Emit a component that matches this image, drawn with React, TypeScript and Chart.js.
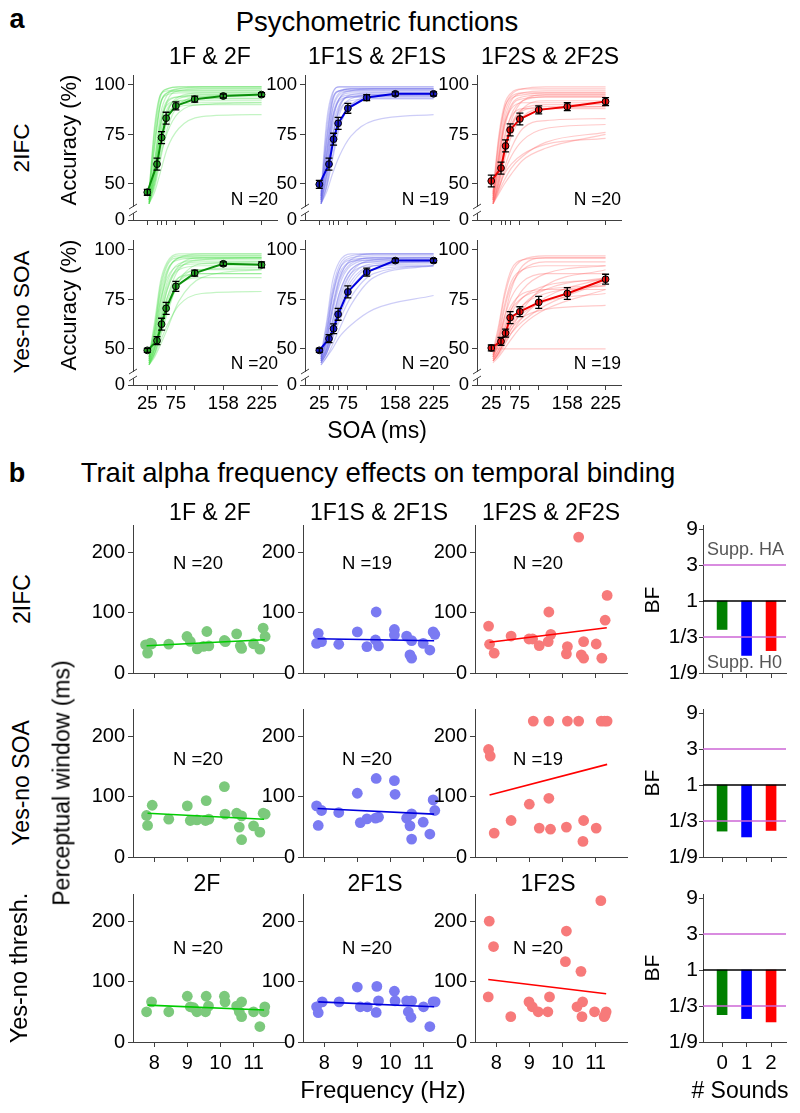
import React, { useEffect, useRef } from 'react';
import { Chart, registerables } from 'chart.js';

// ---------------- DATA: panel a (psychometric functions) ----------------
const SOA = [25, 42, 50, 58, 75, 108, 158, 225];
const SOA_LABELED = [25, 75, 158, 225];
const CURVE_SOA = [28, 38, 48, 60, 80, 120, 225];
const ACC_TICKS = [31.8, 50, 75, 100];
const ACC_TICK_LABELS = ['0', '50', '75', '100'];

const ACC_2IFC_F = [45.8, 60, 73.4, 83.2, 89.4, 92.8, 94.4, 95.1];
const ERR_2IFC_F = [1.5, 3, 3, 3, 2, 1.5, 1, 1];
const ACC_2IFC_F1S = [49.8, 60, 72.6, 80.6, 88.2, 93.6, 95.5, 95.5];
const ERR_2IFC_F1S = [2, 3, 3, 3, 2.5, 1.5, 1, 1];
const ACC_2IFC_F2S = [51.5, 58, 69.2, 77.3, 82.8, 87.4, 89, 91.6];
const ERR_2IFC_F2S = [3, 3, 3, 3, 3, 2, 2, 2];
const ACC_YN_F = [49.3, 54.2, 62.5, 70.5, 81.6, 88.3, 93, 92.5];
const ERR_YN_F = [1, 2, 3, 3, 2.5, 1.5, 1, 1.5];
const ACC_YN_F1S = [49.3, 55.2, 60.2, 67.5, 78.8, 88.8, 94.6, 94.6];
const ERR_YN_F1S = [1, 2, 2.5, 3, 3, 2, 1, 1];
const ACC_YN_F2S = [50.5, 53.8, 58, 65.8, 68.8, 73.5, 78, 85.2];
const ERR_YN_F2S = [1.5, 2, 2, 3, 2.5, 3, 3, 2.5];

// individual participants' fitted curves, sampled at CURVE_SOA
const CURVES_2IFC_F = [
  [42, 62, 85, 95, 98, 99, 99], [40, 55, 78, 92, 97, 98, 98], [44, 68, 90, 96, 97, 97, 97],
  [41, 52, 70, 86, 94, 96, 96], [40, 48, 62, 78, 90, 94, 95], [45, 75, 94, 98, 99, 99, 99],
  [42, 58, 80, 91, 94, 95, 95], [40, 50, 64, 76, 86, 90, 91], [40, 46, 56, 68, 78, 84, 85],
  [46, 80, 95, 97, 97, 97, 97], [43, 62, 82, 92, 94, 94, 94], [40, 50, 66, 82, 91, 93, 93],
  [44, 70, 90, 96, 98, 98, 98], [41, 56, 76, 88, 92, 93, 93], [45, 72, 91, 95, 96, 96, 96],
  [42, 54, 72, 85, 90, 91, 91], [40, 52, 70, 86, 93, 95, 95], [46, 78, 95, 98, 99, 99, 99],
  [42, 60, 80, 90, 92, 92, 92], [41, 57, 75, 85, 89, 90, 90],
];
const CURVES_2IFC_F1S = [
  [42, 66, 88, 96, 98, 98, 98], [40, 56, 80, 93, 97, 98, 98], [44, 70, 91, 97, 98, 98, 98],
  [41, 52, 72, 88, 95, 96, 96], [40, 48, 62, 78, 90, 94, 95], [45, 78, 95, 99, 99, 99, 99],
  [42, 60, 82, 93, 96, 96, 96], [40, 46, 55, 64, 74, 82, 85], [43, 64, 84, 93, 95, 95, 95],
  [41, 54, 74, 89, 94, 95, 95], [44, 72, 92, 97, 97, 97, 97], [42, 58, 78, 90, 94, 94, 94],
  [40, 50, 68, 85, 93, 95, 95], [46, 82, 96, 99, 99, 99, 99], [42, 62, 83, 92, 94, 94, 94],
  [41, 55, 74, 87, 92, 93, 93], [43, 66, 87, 95, 97, 97, 97], [40, 49, 64, 80, 90, 93, 93],
  [44, 74, 93, 97, 98, 98, 98],
];
const CURVES_2IFC_F2S = [
  [45, 70, 88, 95, 98, 99, 99], [42, 62, 82, 92, 96, 97, 97], [44, 66, 85, 93, 95, 96, 96],
  [40, 52, 68, 82, 92, 95, 95], [40, 48, 58, 68, 78, 82, 83], [42, 56, 72, 85, 92, 94, 94],
  [40, 46, 52, 58, 64, 71, 76], [41, 48, 55, 60, 65, 70, 73], [40, 45, 50, 55, 62, 68, 75],
  [46, 74, 90, 96, 98, 98, 98], [43, 60, 78, 89, 93, 94, 94], [41, 50, 62, 74, 84, 88, 89],
  [44, 64, 80, 88, 91, 91, 91], [42, 54, 68, 80, 88, 90, 90], [40, 50, 64, 78, 88, 92, 92],
  [45, 72, 88, 94, 96, 96, 96], [42, 58, 74, 84, 88, 88, 88], [40, 47, 56, 64, 72, 78, 80],
  [43, 62, 80, 90, 94, 95, 95], [41, 52, 66, 79, 87, 89, 89],
];
const CURVES_YN_F = [
  [44, 55, 72, 88, 96, 98, 98], [42, 50, 62, 76, 90, 95, 96], [46, 60, 78, 90, 95, 96, 96],
  [43, 48, 56, 68, 84, 93, 94], [42, 47, 54, 62, 72, 78, 79], [45, 58, 75, 89, 96, 97, 97],
  [44, 52, 66, 80, 90, 92, 92], [42, 48, 58, 70, 84, 90, 90], [47, 62, 82, 93, 97, 97, 97],
  [43, 50, 60, 72, 84, 88, 88], [45, 56, 70, 84, 93, 95, 95], [42, 46, 52, 60, 74, 86, 90],
  [46, 58, 74, 86, 92, 93, 93], [44, 54, 68, 82, 91, 94, 94], [43, 50, 64, 80, 92, 96, 96],
  [45, 60, 80, 92, 96, 96, 96], [42, 48, 58, 70, 82, 86, 86], [44, 52, 64, 76, 86, 88, 88],
  [46, 64, 84, 94, 98, 98, 98], [43, 51, 62, 74, 86, 90, 91],
];
const CURVES_YN_F1S = [
  [45, 55, 70, 85, 95, 98, 98], [44, 50, 60, 74, 88, 95, 96], [46, 58, 76, 90, 96, 97, 97],
  [43, 48, 55, 64, 76, 88, 92], [42, 46, 50, 56, 62, 70, 77], [45, 56, 72, 86, 94, 96, 96],
  [44, 52, 64, 78, 90, 94, 94], [43, 48, 57, 68, 82, 92, 94], [47, 62, 80, 92, 97, 98, 98],
  [44, 50, 60, 72, 86, 93, 94], [45, 54, 68, 82, 92, 95, 95], [42, 46, 52, 60, 72, 86, 92],
  [46, 60, 78, 90, 95, 96, 96], [44, 52, 64, 78, 90, 94, 95], [43, 49, 58, 70, 84, 92, 93],
  [46, 58, 76, 88, 94, 95, 95], [44, 50, 62, 76, 88, 92, 92], [45, 55, 70, 84, 93, 96, 96],
  [47, 64, 84, 94, 98, 98, 98], [43, 48, 56, 66, 80, 90, 92],
];
const CURVES_YN_F2S = [
  [48, 60, 76, 88, 95, 97, 97], [46, 54, 66, 80, 92, 96, 96], [47, 58, 72, 84, 90, 92, 92],
  [44, 48, 54, 60, 70, 82, 90], [50, 50, 50, 50, 50, 50, 50], [45, 50, 56, 62, 68, 74, 78],
  [44, 48, 53, 58, 64, 72, 84], [46, 52, 60, 68, 76, 82, 85], [48, 56, 66, 76, 84, 88, 88],
  [43, 46, 50, 55, 62, 70, 80], [47, 55, 64, 72, 78, 80, 80], [45, 50, 56, 64, 72, 78, 82],
  [46, 56, 70, 82, 90, 94, 94], [44, 47, 52, 58, 66, 76, 86], [49, 62, 78, 90, 95, 96, 96],
  [45, 49, 54, 60, 66, 70, 72], [46, 52, 60, 70, 80, 88, 92], [44, 48, 54, 62, 72, 80, 86],
  [47, 54, 62, 70, 76, 80, 82],
];

// ---------------- DATA: panel b (alpha frequency vs perceptual window) ----------------
const FREQ_TICKS = [8, 9, 10, 11];
const PW_TICKS = [0, 100, 200];

const FREQ_2IFC_F = [7.74, 7.89, 7.8, 7.92, 8.44, 8.99, 9.09, 9.3, 9.49, 9.59, 9.65, 10.12, 10.15, 10.49, 10.6, 10.64, 11.0, 11.19, 11.29, 11.35];
const PW_2IFC_F = [46.7, 49.5, 33, 48, 47.8, 60.4, 52.2, 40, 44, 68.7, 45, 53.8, 52, 64.8, 45, 40.7, 48.4, 39.6, 74.2, 60.4];
const FIT_X_2IFC_F = [7.77, 11.34];
const FIT_Y_2IFC_F = [45, 55];

const FREQ_2IFC_F1S = [7.82, 7.77, 7.92, 8.44, 9.0, 9.29, 9.57, 9.55, 9.64, 10.12, 10.12, 10.49, 10.64, 10.59, 10.64, 10.99, 11.19, 11.29, 11.34];
const PW_2IFC_F1S = [65.6, 49, 52, 47.5, 68, 43.7, 101, 54.6, 44.8, 72, 62.8, 61, 53.5, 30, 24.6, 49, 38, 68, 64];
const FIT_X_2IFC_F1S = [7.8, 11.32];
const FIT_Y_2IFC_F1S = [56.8, 53.5];

const FREQ_2IFC_F2S = [7.77, 7.8, 7.94, 8.45, 8.99, 9.1, 9.3, 9.59, 9.65, 9.57, 10.15, 10.12, 10.49, 10.64, 10.57, 10.64, 11.02, 11.19, 11.29, 11.35];
const PW_2IFC_F2S = [77.6, 47.5, 32.8, 61.2, 56.3, 56.3, 45.4, 101, 64, 52, 43.7, 31.7, 225, 52, 30, 24.6, 48, 24.6, 87.4, 128.4];
const FIT_X_2IFC_F2S = [7.8, 11.34];
const FIT_Y_2IFC_F2S = [50.8, 74.9];

const FREQ_YNSOA_F = [7.77, 7.94, 7.8, 8.44, 9.0, 9.09, 9.29, 9.57, 9.55, 9.65, 10.12, 10.14, 10.49, 10.64, 10.57, 10.64, 11.0, 11.19, 11.29, 11.35];
const PW_YNSOA_F = [68.7, 85.7, 52.2, 62.6, 84.6, 60.4, 61.5, 93.4, 60.4, 62.6, 116.5, 70.9, 72.5, 68, 49.5, 28.6, 51.6, 41.2, 72.5, 70.9];
const FIT_X_YNSOA_F = [7.8, 11.32];
const FIT_Y_YNSOA_F = [72.5, 62.6];

const FREQ_YNSOA_F1S = [7.77, 7.92, 7.82, 8.44, 9.0, 9.09, 9.29, 9.55, 9.64, 9.57, 10.12, 10.14, 10.49, 10.64, 10.59, 10.64, 10.99, 11.19, 11.29, 11.34];
const PW_YNSOA_F1S = [84.6, 77, 52.2, 73.6, 105.5, 57, 63, 64.3, 66, 130, 126.4, 103.8, 64.3, 71.4, 51.6, 29.7, 57.7, 38, 94.5, 77];
const FIT_X_YNSOA_F1S = [7.8, 11.32];
const FIT_Y_YNSOA_F1S = [80.2, 70.9];

const FREQ_YNSOA_F2S = [9.12, 9.59, 10.15, 10.49, 11.17, 11.27, 11.35, 7.77, 7.82, 7.94, 8.45, 9.0, 9.3, 9.59, 9.64, 10.12, 10.64, 10.62, 11.02];
const PW_YNSOA_F2S = [225, 225, 225, 225, 225, 225, 225, 178, 167, 39.6, 60.4, 87.4, 47.8, 97.2, 46, 49.5, 60.4, 25.8, 47.8];
const FIT_X_YNSOA_F2S = [7.8, 11.35];
const FIT_Y_YNSOA_F2S = [102.7, 153.3];

const FREQ_YNTH_F = [7.77, 7.92, 8.44, 9.0, 9.09, 9.19, 9.29, 9.57, 9.64, 9.55, 10.12, 10.14, 10.49, 10.64, 10.57, 10.64, 11.0, 11.19, 11.34, 11.32];
const PW_YNTH_F = [50, 66.5, 50, 75.7, 58.3, 56.7, 50, 75.7, 59.4, 50, 75.7, 66.5, 59.4, 66.5, 50, 42, 50, 25.6, 58.3, 50];
const FIT_X_YNTH_F = [7.8, 11.32];
const FIT_Y_YNTH_F = [61, 52.9];

const FREQ_YNTH_F1S = [7.77, 7.94, 7.82, 8.45, 9.0, 9.09, 9.3, 9.59, 9.64, 9.57, 10.12, 10.14, 10.49, 10.64, 10.54, 10.62, 11.0, 11.19, 11.29, 11.35];
const PW_YNTH_F1S = [58.3, 66.5, 48.5, 66.5, 91, 58.3, 58.3, 92, 68, 49, 84, 68, 68, 68, 50, 41, 58.3, 25.6, 66.5, 66.5];
const FIT_X_YNTH_F1S = [7.82, 11.32];
const FIT_Y_YNTH_F1S = [66.5, 58.3];

const FREQ_YNTH_F2S = [7.79, 7.92, 7.76, 8.44, 8.99, 9.09, 9.27, 9.56, 9.61, 10.12, 10.09, 10.56, 10.44, 10.61, 10.59, 10.97, 11.16, 11.32, 11.26, 11.29];
const PW_YNTH_F2S = [200, 158, 74.7, 42, 66.5, 58.3, 50, 50, 74.7, 183.7, 133, 117, 58.3, 66.5, 42, 50, 234, 50, 42, 44.7];
const FIT_X_YNTH_F2S = [7.76, 11.32];
const FIT_Y_YNTH_F2S = [103.5, 80];

// Bayes factors (# sounds = 0, 1, 2)
const SOUNDS = [0, 1, 2];
const BF_2IFC = [0.42, 0.19, 0.22];
const BF_YNSOA = [0.245, 0.205, 0.25];
const BF_YNTH = [0.256, 0.227, 0.205];
const BF_TICKS = [1 / 9, 1 / 3, 1, 3, 9];
const BF_TICK_LABELS = ['1/9', '1/3', '1', '3', '9'];
const BF_SUPPORT = [3, 1 / 3];

// ---------------- styles / layout ----------------
const FONT = 'Arial, "Liberation Sans", sans-serif';
const AXIS_COLOR = '#404040';
const ORCHID = '#cc66d6';
const GREEN = { light: 'rgba(60,220,60,0.3)', line: '#0b900b', marker: '#22a022', pt: '#7cc97c', fit: '#00cc00', bar: '#008000' };
const BLUE = { light: 'rgba(90,90,230,0.3)', line: '#0000e0', marker: '#1a1acc', pt: '#7a7af2', fit: '#0000dd', bar: '#0000ff' };
const RED = { light: 'rgba(255,90,90,0.32)', line: '#ee0000', marker: '#ee1111', pt: '#f77a7a', fit: '#ff0000', bar: '#ff0000' };

const YW = 60, XH = 40, PT = 20, PR = 12;
const A_COLS = [133, 305, 477], A_W = 144, A_ROWS = [75, 240], A_H = 145;
const B_COLS = [133, 303, 475], B_W = 152, B_ROWS = [525, 709, 894], B_H = 148;
const BF_AX = 703, BF_W = 83;
const BF_XMIN = -0.78, BF_XMAX = 2.61, BF_YMIN = 1 / 9, BF_YMAX = 10.2;
const ACC_MIN = 31.8, ACC_MAX = 105;
const PW_MIN = 0, PW_MAX = 245;
const F_MIN = 7.36, F_MAX = 11.95;

const errorBarPlugin = {
  id: 'errorBars',
  afterDatasetsDraw(chart: any) {
    const ctx = chart.ctx;
    const ys = chart.scales.y;
    chart.data.datasets.forEach((d: any, i: number) => {
      if (!d.errors) return;
      const meta = chart.getDatasetMeta(i);
      ctx.save();
      ctx.strokeStyle = '#000';
      ctx.lineWidth = 1.3;
      meta.data.forEach((pt: any, j: number) => {
        const v = d.data[j].y, e = d.errors[j];
        const x = pt.x;
        const y1 = ys.getPixelForValue(v + e), y2 = ys.getPixelForValue(v - e);
        ctx.beginPath();
        ctx.moveTo(x, y1); ctx.lineTo(x, y2);
        ctx.moveTo(x - 3.5, y1); ctx.lineTo(x + 3.5, y1);
        ctx.moveTo(x - 3.5, y2); ctx.lineTo(x + 3.5, y2);
        ctx.stroke();
      });
      ctx.restore();
    });
  },
};

const breakPlugin = {
  id: 'axisBreak',
  afterDraw(chart: any, _a: any, opts: any) {
    if (!opts || !opts.enabled) return;
    const { left, bottom } = chart.chartArea;
    const ctx = chart.ctx;
    const yb = bottom - 10;
    ctx.save();
    ctx.fillStyle = '#fff';
    ctx.fillRect(left - 2, yb - 3, 4, 6);
    ctx.strokeStyle = AXIS_COLOR;
    ctx.lineWidth = 1;
    ctx.beginPath();
    ctx.moveTo(left - 4, yb - 1); ctx.lineTo(left + 4, yb - 6);
    ctx.moveTo(left - 4, yb + 6); ctx.lineTo(left + 4, yb + 1);
    ctx.stroke();
    ctx.restore();
  },
};

Chart.register(...registerables, errorBarPlugin, breakPlugin);

const font = (size: number) => ({ family: FONT, size });
const setTicks = (values: number[]) => (s: any) => { s.ticks = values.map((v) => ({ value: v })); };
const fixW = (s: any) => { s.width = YW; };
const fixH = (s: any) => { s.height = XH; };
const gridOpts = { drawOnChartArea: false, drawTicks: true, tickLength: 5, color: AXIS_COLOR, lineWidth: 1 };
const borderOpts = { color: AXIS_COLOR, width: 1 };

function baseOptions(extraPlugins: any = {}) {
  return {
    animation: false,
    responsive: false,
    maintainAspectRatio: false,
    events: [],
    layout: { padding: { top: PT, right: PR, left: 0, bottom: 0 } },
    plugins: { legend: { display: false }, tooltip: { enabled: false }, ...extraPlugins },
  };
}

function psychConfig(curves: number[][], mean: number[], err: number[], col: any, showLabels: boolean) {
  const datasets: any[] = curves.map((c) => ({
    data: CURVE_SOA.map((x, i) => ({ x, y: c[i] })),
    borderColor: col.light, borderWidth: 1.2, pointRadius: 0, showLine: true,
    cubicInterpolationMode: 'monotone', order: 3,
  }));
  datasets.push({
    data: SOA.map((x, i) => ({ x, y: mean[i] })),
    borderColor: col.line, borderWidth: 2, pointRadius: 3.4,
    pointBackgroundColor: col.marker, pointBorderColor: '#000', pointBorderWidth: 1,
    showLine: true, order: 1, errors: err,
  });
  return {
    type: 'scatter',
    data: { datasets },
    options: {
      ...baseOptions({ axisBreak: { enabled: true } }),
      scales: {
        x: {
          type: 'linear', min: 0, max: 252, afterBuildTicks: setTicks(SOA), afterFit: fixH,
          grid: gridOpts, border: borderOpts,
          ticks: { autoSkip: false, maxRotation: 0, font: font(18.5), color: '#000', padding: 3,
            callback: (v: number) => (showLabels && SOA_LABELED.includes(v) ? String(v) : '') },
        },
        y: {
          type: 'linear', min: ACC_MIN, max: ACC_MAX, afterBuildTicks: setTicks(ACC_TICKS), afterFit: fixW,
          grid: gridOpts, border: borderOpts,
          ticks: { autoSkip: false, font: font(18.5), color: '#000', padding: 3,
            callback: (_v: number, i: number) => ACC_TICK_LABELS[i] },
        },
      },
    },
  };
}

function scatterConfig(freq: number[], pw: number[], fx: number[], fy: number[], col: any, showLabels: boolean) {
  return {
    type: 'scatter',
    data: {
      datasets: [
        { data: fx.map((x, i) => ({ x, y: fy[i] })), showLine: true, borderColor: col.fit, borderWidth: 1.6, pointRadius: 0, order: 0 },
        { data: freq.map((x, i) => ({ x, y: pw[i] })), pointRadius: 5.4, pointBackgroundColor: col.pt, pointBorderWidth: 0, borderWidth: 0, order: 2 },
      ],
    },
    options: {
      ...baseOptions(),
      scales: {
        x: {
          type: 'linear', min: F_MIN, max: F_MAX, afterBuildTicks: setTicks(FREQ_TICKS), afterFit: fixH,
          grid: gridOpts, border: borderOpts,
          ticks: { autoSkip: false, maxRotation: 0, font: font(20), color: '#000', padding: 4,
            callback: (v: number) => (showLabels ? String(v) : '') },
        },
        y: {
          type: 'linear', min: PW_MIN, max: PW_MAX, afterBuildTicks: setTicks(PW_TICKS), afterFit: fixW,
          grid: gridOpts, border: borderOpts,
          ticks: { autoSkip: false, font: font(20), color: '#000', padding: 3, callback: (v: number) => String(v) },
        },
      },
    },
  };
}

function bfConfig(bf: number[], showLabels: boolean) {
  const hline = (y: number, color: string, w: number) => ({
    type: 'line', data: [{ x: BF_XMIN, y }, { x: BF_XMAX, y }], borderColor: color, borderWidth: w, pointRadius: 0, order: 0,
  });
  return {
    type: 'bar',
    data: {
      datasets: [
        hline(1, '#000', 1.5),
        hline(BF_SUPPORT[0], ORCHID, 1.5),
        hline(BF_SUPPORT[1], ORCHID, 1.5),
        {
          type: 'bar',
          data: SOUNDS.map((x, i) => ({ x, y: [bf[i], 1] })),
          backgroundColor: [GREEN.bar, BLUE.bar, RED.bar], borderWidth: 0, barThickness: 10, order: 2,
        },
      ],
    },
    options: {
      ...baseOptions(),
      scales: {
        x: {
          type: 'linear', min: BF_XMIN, max: BF_XMAX, offset: false, afterBuildTicks: setTicks(SOUNDS), afterFit: fixH,
          grid: { ...gridOpts, offset: false }, border: borderOpts,
          ticks: { autoSkip: false, maxRotation: 0, font: font(20.5), color: '#000', padding: 4,
            callback: (v: number) => (showLabels ? String(v) : '') },
        },
        y: {
          type: 'logarithmic', min: BF_YMIN, max: BF_YMAX, afterBuildTicks: setTicks(BF_TICKS), afterFit: fixW,
          grid: { ...gridOpts, tickLength: 4 }, border: borderOpts,
          ticks: { autoSkip: false, font: font(21), color: '#000', padding: 1,
            callback: (_v: number, i: number) => BF_TICK_LABELS[i] },
        },
      },
    },
  };
}

type Spec = { left: number; top: number; w: number; h: number; config: any };
const frame = (axisX: number, plotTop: number, plotW: number, plotH: number) => ({
  left: axisX - YW, top: plotTop - PT, w: YW + plotW + PR, h: PT + plotH + XH,
});

function buildSpecs(): Spec[] {
  const specs: Spec[] = [];
  const psych = [
    [CURVES_2IFC_F, ACC_2IFC_F, ERR_2IFC_F, GREEN], [CURVES_2IFC_F1S, ACC_2IFC_F1S, ERR_2IFC_F1S, BLUE], [CURVES_2IFC_F2S, ACC_2IFC_F2S, ERR_2IFC_F2S, RED],
    [CURVES_YN_F, ACC_YN_F, ERR_YN_F, GREEN], [CURVES_YN_F1S, ACC_YN_F1S, ERR_YN_F1S, BLUE], [CURVES_YN_F2S, ACC_YN_F2S, ERR_YN_F2S, RED],
  ];
  psych.forEach((p: any, k) => {
    const r = Math.floor(k / 3), c = k % 3;
    specs.push({ ...frame(A_COLS[c], A_ROWS[r], A_W, A_H), config: psychConfig(p[0], p[1], p[2], p[3], r === 1) });
  });
  const sc = [
    [FREQ_2IFC_F, PW_2IFC_F, FIT_X_2IFC_F, FIT_Y_2IFC_F, GREEN], [FREQ_2IFC_F1S, PW_2IFC_F1S, FIT_X_2IFC_F1S, FIT_Y_2IFC_F1S, BLUE], [FREQ_2IFC_F2S, PW_2IFC_F2S, FIT_X_2IFC_F2S, FIT_Y_2IFC_F2S, RED],
    [FREQ_YNSOA_F, PW_YNSOA_F, FIT_X_YNSOA_F, FIT_Y_YNSOA_F, GREEN], [FREQ_YNSOA_F1S, PW_YNSOA_F1S, FIT_X_YNSOA_F1S, FIT_Y_YNSOA_F1S, BLUE], [FREQ_YNSOA_F2S, PW_YNSOA_F2S, FIT_X_YNSOA_F2S, FIT_Y_YNSOA_F2S, RED],
    [FREQ_YNTH_F, PW_YNTH_F, FIT_X_YNTH_F, FIT_Y_YNTH_F, GREEN], [FREQ_YNTH_F1S, PW_YNTH_F1S, FIT_X_YNTH_F1S, FIT_Y_YNTH_F1S, BLUE], [FREQ_YNTH_F2S, PW_YNTH_F2S, FIT_X_YNTH_F2S, FIT_Y_YNTH_F2S, RED],
  ];
  sc.forEach((p: any, k) => {
    const r = Math.floor(k / 3), c = k % 3;
    specs.push({ ...frame(B_COLS[c], B_ROWS[r], B_W, B_H), config: scatterConfig(p[0], p[1], p[2], p[3], p[4], r === 2) });
  });
  [BF_2IFC, BF_YNSOA, BF_YNTH].forEach((bf, r) => {
    specs.push({ ...frame(BF_AX, B_ROWS[r], BF_W, B_H), config: bfConfig(bf, r === 2) });
  });
  return specs;
}

type Lbl = { x: number; y: number; s: string; size?: number; rot?: boolean; bold?: boolean; color?: string; align?: 'center' | 'left' | 'right' };
const LABELS: Lbl[] = [
  { x: 17, y: 19, s: 'a', size: 27, bold: true },
  { x: 377, y: 22, s: 'Psychometric functions', size: 27.5 },
  { x: 210, y: 56, s: '1F & 2F', size: 23 },
  { x: 377, y: 56, s: '1F1S & 2F1S', size: 23 },
  { x: 550, y: 56, s: '1F2S & 2F2S', size: 23 },
  { x: 22, y: 148, s: '2IFC', size: 22.5, rot: true },
  { x: 22, y: 312, s: 'Yes-no SOA', size: 22.5, rot: true },
  { x: 69, y: 140, s: 'Accuracy (%)', size: 22, rot: true },
  { x: 69, y: 305, s: 'Accuracy (%)', size: 22, rot: true },
  { x: 278, y: 200, s: 'N =20', size: 17.5, align: 'right' },
  { x: 449, y: 200, s: 'N =19', size: 17.5, align: 'right' },
  { x: 621, y: 200, s: 'N =20', size: 17.5, align: 'right' },
  { x: 278, y: 364, s: 'N =20', size: 17.5, align: 'right' },
  { x: 449, y: 364, s: 'N =20', size: 17.5, align: 'right' },
  { x: 621, y: 364, s: 'N =19', size: 17.5, align: 'right' },
  { x: 377, y: 430, s: 'SOA (ms)', size: 23 },
  { x: 17, y: 473, s: 'b', size: 27, bold: true },
  { x: 378, y: 473, s: 'Trait alpha frequency effects on temporal binding', size: 27.5 },
  { x: 210, y: 512, s: '1F & 2F', size: 23 },
  { x: 379, y: 512, s: '1F1S & 2F1S', size: 23 },
  { x: 551, y: 512, s: '1F2S & 2F2S', size: 23 },
  { x: 207, y: 883, s: '2F', size: 23 },
  { x: 375, y: 883, s: '2F1S', size: 23 },
  { x: 548, y: 883, s: '1F2S', size: 23 },
  { x: 22, y: 599, s: '2IFC', size: 23, rot: true },
  { x: 21, y: 783, s: 'Yes-no SOA', size: 23, rot: true },
  { x: 20, y: 968, s: 'Yes-no thresh.', size: 23.5, rot: true },
  { x: 62, y: 783, s: 'Perceptual window (ms)', size: 23, rot: true },
  { x: 198, y: 563, s: 'N =20', size: 18.5 },
  { x: 367, y: 563, s: 'N =19', size: 18.5 },
  { x: 538, y: 563, s: 'N =20', size: 18.5 },
  { x: 198, y: 759, s: 'N =20', size: 18.5 },
  { x: 367, y: 759, s: 'N =20', size: 18.5 },
  { x: 538, y: 759, s: 'N =19', size: 18.5 },
  { x: 198, y: 948, s: 'N =20', size: 18.5 },
  { x: 367, y: 948, s: 'N =20', size: 18.5 },
  { x: 538, y: 948, s: 'N =20', size: 18.5 },
  { x: 651, y: 600, s: 'BF', size: 21, rot: true },
  { x: 651, y: 783, s: 'BF', size: 21, rot: true },
  { x: 651, y: 968, s: 'BF', size: 21, rot: true },
  { x: 707, y: 549, s: 'Supp. HA', size: 18, color: '#555', align: 'left' },
  { x: 707, y: 662, s: 'Supp. H0', size: 18, color: '#555', align: 'left' },
  { x: 383, y: 1090, s: 'Frequency (Hz)', size: 24 },
  { x: 740, y: 1090, s: '# Sounds', size: 23 },
];

function Label({ l }: { l: Lbl }) {
  const tx = l.align === 'left' ? '0' : l.align === 'right' ? '-100%' : '-50%';
  return (
    <div
      style={{
        position: 'absolute', left: l.x, top: l.y, whiteSpace: 'nowrap', lineHeight: 1,
        fontFamily: FONT, fontSize: l.size ?? 18, fontWeight: l.bold ? 'bold' : 'normal', color: l.color ?? '#000',
        transform: `translate(${tx}, -50%)${l.rot ? ' rotate(-90deg)' : ''}`,
      }}
    >
      {l.s}
    </div>
  );
}

export default function App() {
  const specs = useRef<Spec[]>(buildSpecs());
  const refs = useRef<(HTMLCanvasElement | null)[]>([]);
  useEffect(() => {
    const charts = specs.current.map((s, i) => new Chart(refs.current[i] as HTMLCanvasElement, s.config));
    return () => charts.forEach((c) => c.destroy());
  }, []);
  return (
    <div style={{ position: 'absolute', left: 0, top: 0, width: 800, height: 1113, background: '#fff', overflow: 'hidden' }}>
      {specs.current.map((s, i) => (
        <canvas
          key={i}
          ref={(el) => { refs.current[i] = el; }}
          width={s.w}
          height={s.h}
          style={{ position: 'absolute', left: s.left, top: s.top, width: s.w, height: s.h }}
        />
      ))}
      {LABELS.map((l, i) => <Label key={i} l={l} />)}
    </div>
  );
}
